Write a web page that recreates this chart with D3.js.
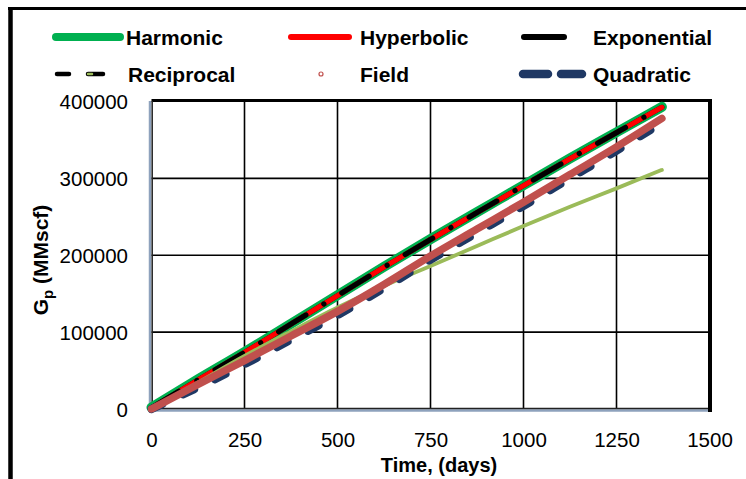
<!DOCTYPE html>
<html><head><meta charset="utf-8">
<script src="https://cdn.jsdelivr.net/npm/d3@7"></script>
<style>body{margin:0;background:#fff}svg{display:block}</style>
</head><body>
<svg id="c" width="746" height="479"></svg>
<script>
// ---- data ----
const days        = [0, 125, 250, 375, 500, 625, 750, 875, 1000, 1125, 1250, 1372];
const harmonic    = [2000, 38500, 74000, 111000, 148000, 185000, 221000, 256000, 291000, 326000, 360000, 393000];
const hyperbolic  = [1500, 38000, 73500, 110500, 147500, 184500, 220500, 255500, 290500, 325500, 359500, 392500];
const exponential = [1500, 38000, 73500, 110500, 147500, 184500, 220500, 255500, 290500, 325500, 359500, 392500];
const reciprocal  = [1500, 38000, 73500, 110500, 147500, 184500, 220500, 255500, 290500, 325500, 359500, 392500];
const field       = [0, 32000, 63000, 95000, 127000, 162000, 199000, 234000, 269000, 305000, 341000, 378000];
const quadratic   = [0, 28000, 58000, 90000, 122000, 157000, 194000, 229000, 264000, 300000, 336000, 372000];
const olive       = [0, 34500, 69000, 101000, 132000, 160000, 186000, 212000, 238000, 263000, 287000, 311000];
const xTicks = [0, 250, 500, 750, 1000, 1250, 1500];
const yTicks = [0, 100000, 200000, 300000, 400000];
const legendRow1 = ["Harmonic", "Hyperbolic", "Exponential"];
const legendRow2 = ["Reciprocal", "Field", "Quadratic"];

const svg = d3.select("#c");
const x = d3.scaleLinear().domain([0, 1500]).range([151.5, 709.5]);
const y = d3.scaleLinear().domain([0, 400000]).range([409, 101.5]);
const FONT = "Liberation Sans, Arial, sans-serif";

// outer frame (top + left visible)
svg.append("line").attr("x1", 8).attr("x2", 746).attr("y1", 8.5).attr("y2", 8.5)
  .attr("stroke", "#000").attr("stroke-width", 3);
svg.append("line").attr("x1", 10.5).attr("x2", 10.5).attr("y1", 7).attr("y2", 479)
  .attr("stroke", "#000").attr("stroke-width", 4.5);

// grid
const g = svg.append("g");
g.selectAll(".vg").data(xTicks.slice(1, -1)).join("line")
  .attr("x1", d => x(d)).attr("x2", d => x(d)).attr("y1", y(400000)).attr("y2", y(0))
  .attr("stroke", "#000").attr("stroke-width", 1.6);
g.selectAll(".hg").data(yTicks.slice(1, -1)).join("line")
  .attr("x1", x(0)).attr("x2", x(1500)).attr("y1", d => y(d)).attr("y2", d => y(d))
  .attr("stroke", "#000").attr("stroke-width", 1.6);

// plot borders
svg.append("line").attr("x1", x(0)).attr("x2", x(1500) + 2).attr("y1", 100.5).attr("y2", 100.5)
  .attr("stroke", "#000").attr("stroke-width", 3);
svg.append("line").attr("x1", 710).attr("x2", 710).attr("y1", 99).attr("y2", 412)
  .attr("stroke", "#000").attr("stroke-width", 4);
svg.append("line").attr("x1", x(0) - 2).attr("x2", 708).attr("y1", 410.5).attr("y2", 410.5)
  .attr("stroke", "#8ea2bd").attr("stroke-width", 2.5);
svg.append("line").attr("x1", x(0)).attr("x2", 708).attr("y1", 408.5).attr("y2", 408.5)
  .attr("stroke", "#222").attr("stroke-width", 1.5);
svg.append("line").attr("x1", 150).attr("x2", 150).attr("y1", 101).attr("y2", 411)
  .attr("stroke", "#8ea2bd").attr("stroke-width", 2.5);
svg.append("line").attr("x1", 152.2).attr("x2", 152.2).attr("y1", 101).attr("y2", 410)
  .attr("stroke", "#222").attr("stroke-width", 1.5);

// axes (labels only)
const xAxis = d3.axisBottom(x).tickValues(xTicks).tickSize(0).tickPadding(0).tickFormat(d3.format("d"));
const yAxis = d3.axisLeft(y).tickValues(yTicks).tickSize(0).tickPadding(0).tickFormat(d3.format("d"));
const xa = svg.append("g").call(xAxis);
xa.select(".domain").remove();
xa.selectAll("text").attr("y", 447).attr("dy", 0);
const ya = svg.append("g").attr("transform", "translate(128,0)").call(yAxis);
ya.select(".domain").remove();
ya.selectAll("text").attr("x", 0).attr("dy", "0.36em");
svg.selectAll(".tick text").attr("font-family", FONT).attr("font-size", 20.5).attr("fill", "#000");

// series
const line = vals => d3.line().x((d, i) => x(days[i])).y(d => y(d)).curve(d3.curveMonotoneX)(vals);
const S = svg.append("g").attr("fill", "none").attr("stroke-linecap", "round").attr("stroke-linejoin", "round");
S.append("path").attr("d", line(harmonic)).attr("stroke", "#00b050").attr("stroke-width", 10);
S.append("path").attr("d", line(exponential)).attr("stroke", "#000").attr("stroke-width", 5);
S.append("path").attr("d", line(hyperbolic)).attr("stroke", "#ff0000").attr("stroke-width", 5);
S.append("path").attr("d", line(reciprocal)).attr("stroke", "#000").attr("stroke-width", 5.2)
  .attr("stroke-dasharray", "32,21,0.1,21");
S.append("path").attr("d", line(olive)).attr("stroke", "#9bbb59").attr("stroke-width", 3.8);
S.append("path").attr("d", line(quadratic)).attr("stroke", "#1f3864").attr("stroke-width", 8)
  .attr("stroke-dasharray", "12,23");
S.append("path").attr("d", line(field)).attr("stroke", "#c0504d").attr("stroke-width", 7.5);

// legend
const L = svg.append("g").attr("stroke-linecap", "round");
const txt = (t, xx, yy) => L.append("text").text(t).attr("x", xx).attr("y", yy)
  .attr("font-family", FONT).attr("font-weight", "bold").attr("font-size", 21).attr("fill", "#000");
const r1 = 37, r2 = 74;
L.append("line").attr("x1", 56).attr("x2", 120).attr("y1", r1).attr("y2", r1).attr("stroke", "#00b050").attr("stroke-width", 8);
L.append("line").attr("x1", 291).attr("x2", 349).attr("y1", r1).attr("y2", r1).attr("stroke", "#ff0000").attr("stroke-width", 6);
L.append("line").attr("x1", 524).attr("x2", 564).attr("y1", r1).attr("y2", r1).attr("stroke", "#000").attr("stroke-width", 6);
txt(legendRow1[0], 126, r1 + 7.5); txt(legendRow1[1], 360, r1 + 7.5); txt(legendRow1[2], 593, r1 + 7.5);
L.append("line").attr("x1", 57).attr("x2", 69).attr("y1", r2).attr("y2", r2).attr("stroke", "#000").attr("stroke-width", 4.5);
L.append("line").attr("x1", 88).attr("x2", 103).attr("y1", r2).attr("y2", r2).attr("stroke", "#000").attr("stroke-width", 4.5);
L.append("line").attr("x1", 88).attr("x2", 92).attr("y1", r2).attr("y2", r2).attr("stroke", "#9bbb59").attr("stroke-width", 2.5);
L.append("circle").attr("cx", 321).attr("cy", r2).attr("r", 2).attr("fill", "none").attr("stroke", "#c0504d").attr("stroke-width", 1.2);
L.append("line").attr("x1", 523).attr("x2", 548).attr("y1", r2).attr("y2", r2).attr("stroke", "#1f3864").attr("stroke-width", 8.5);
L.append("line").attr("x1", 561).attr("x2", 582).attr("y1", r2).attr("y2", r2).attr("stroke", "#1f3864").attr("stroke-width", 8.5);
txt(legendRow2[0], 128, r2 + 7.5); txt(legendRow2[1], 360, r2 + 7.5); txt(legendRow2[2], 593, r2 + 7.5);

// axis titles
svg.append("text").attr("x", 439).attr("y", 472).attr("text-anchor", "middle")
  .attr("font-family", FONT).attr("font-weight", "bold").attr("font-size", 20)
  .text("Time, (days)");
const yt = svg.append("text").attr("transform", "translate(48,260) rotate(-90)").attr("text-anchor", "middle")
  .attr("font-family", FONT).attr("font-weight", "bold").attr("font-size", 21);
yt.append("tspan").text("G");
yt.append("tspan").text("p").attr("font-size", 15).attr("dy", 5);
yt.append("tspan").text(" (MMscf)").attr("dy", -5);
</script>
</body></html>
